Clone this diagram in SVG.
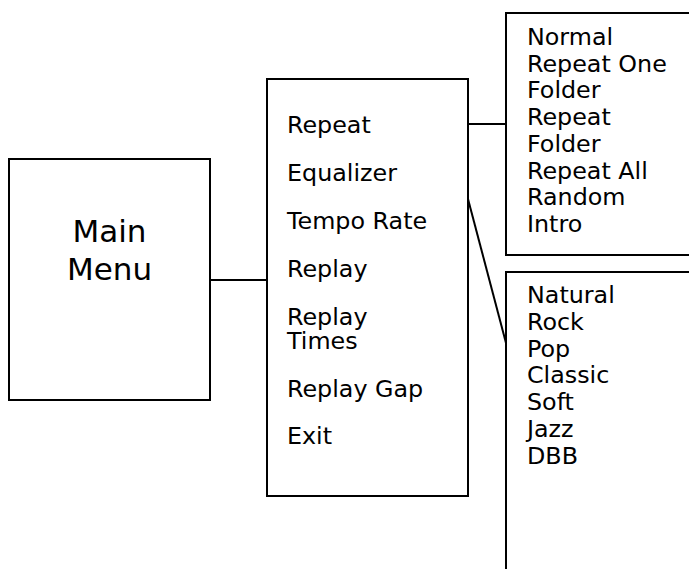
<svg xmlns="http://www.w3.org/2000/svg" width="689" height="569" viewBox="0 0 689 569">
<style>
.box{fill:#fff;stroke:#000;stroke-width:2}
.con{stroke:#000;stroke-width:2;fill:none}
text{font-family:"DejaVu Sans",Verdana,sans-serif;fill:#000}
.t{font-size:23.8px}
.big{font-size:31px}
</style>
<rect width="689" height="569" fill="#fff"/>
<g id="connectors">
<line class="con" x1="210" y1="280" x2="267" y2="280"/>
<line class="con" x1="468" y1="124" x2="506" y2="124"/>
<line class="con" x1="468" y1="199" x2="506" y2="343"/>
</g>
<g id="main-menu">
<rect class="box" x="9" y="159" width="201" height="241"/>
<text class="big" x="109.5" y="241.5" text-anchor="middle">Main</text>
<text class="big" x="109.5" y="280" text-anchor="middle">Menu</text>
</g>
<g id="menu-items">
<rect class="box" x="267" y="79" width="201" height="417"/>
<text class="t" x="287" y="133">Repeat</text>
<text class="t" x="287" y="181">Equalizer</text>
<text class="t" x="287" y="229">Tempo Rate</text>
<text class="t" x="287" y="277">Replay</text>
<text class="t" x="287" y="325">Replay<tspan x="287" y="348.5">Times</tspan></text>
<text class="t" x="287" y="397">Replay Gap</text>
<text class="t" x="287" y="444">Exit</text>
</g>
<g id="repeat-options">
<rect class="box" x="506" y="13" width="200" height="242"/>
<text class="t" x="527" y="45">Normal</text>
<text class="t" x="527" y="71.7">Repeat One</text>
<text class="t" x="527" y="98.4">Folder</text>
<text class="t" x="527" y="125.1">Repeat</text>
<text class="t" x="527" y="151.8">Folder</text>
<text class="t" x="527" y="178.5">Repeat All</text>
<text class="t" x="527" y="205.2">Random</text>
<text class="t" x="527" y="231.9">Intro</text>
</g>
<g id="equalizer-options">
<rect class="box" x="506" y="272" width="200" height="310"/>
<text class="t" x="527" y="303.3">Natural</text>
<text class="t" x="527" y="330">Rock</text>
<text class="t" x="527" y="356.7">Pop</text>
<text class="t" x="527" y="383.4">Classic</text>
<text class="t" x="527" y="410.1">Soft</text>
<text class="t" x="527" y="436.8">Jazz</text>
<text class="t" x="527" y="463.5">DBB</text>
</g>
</svg>
